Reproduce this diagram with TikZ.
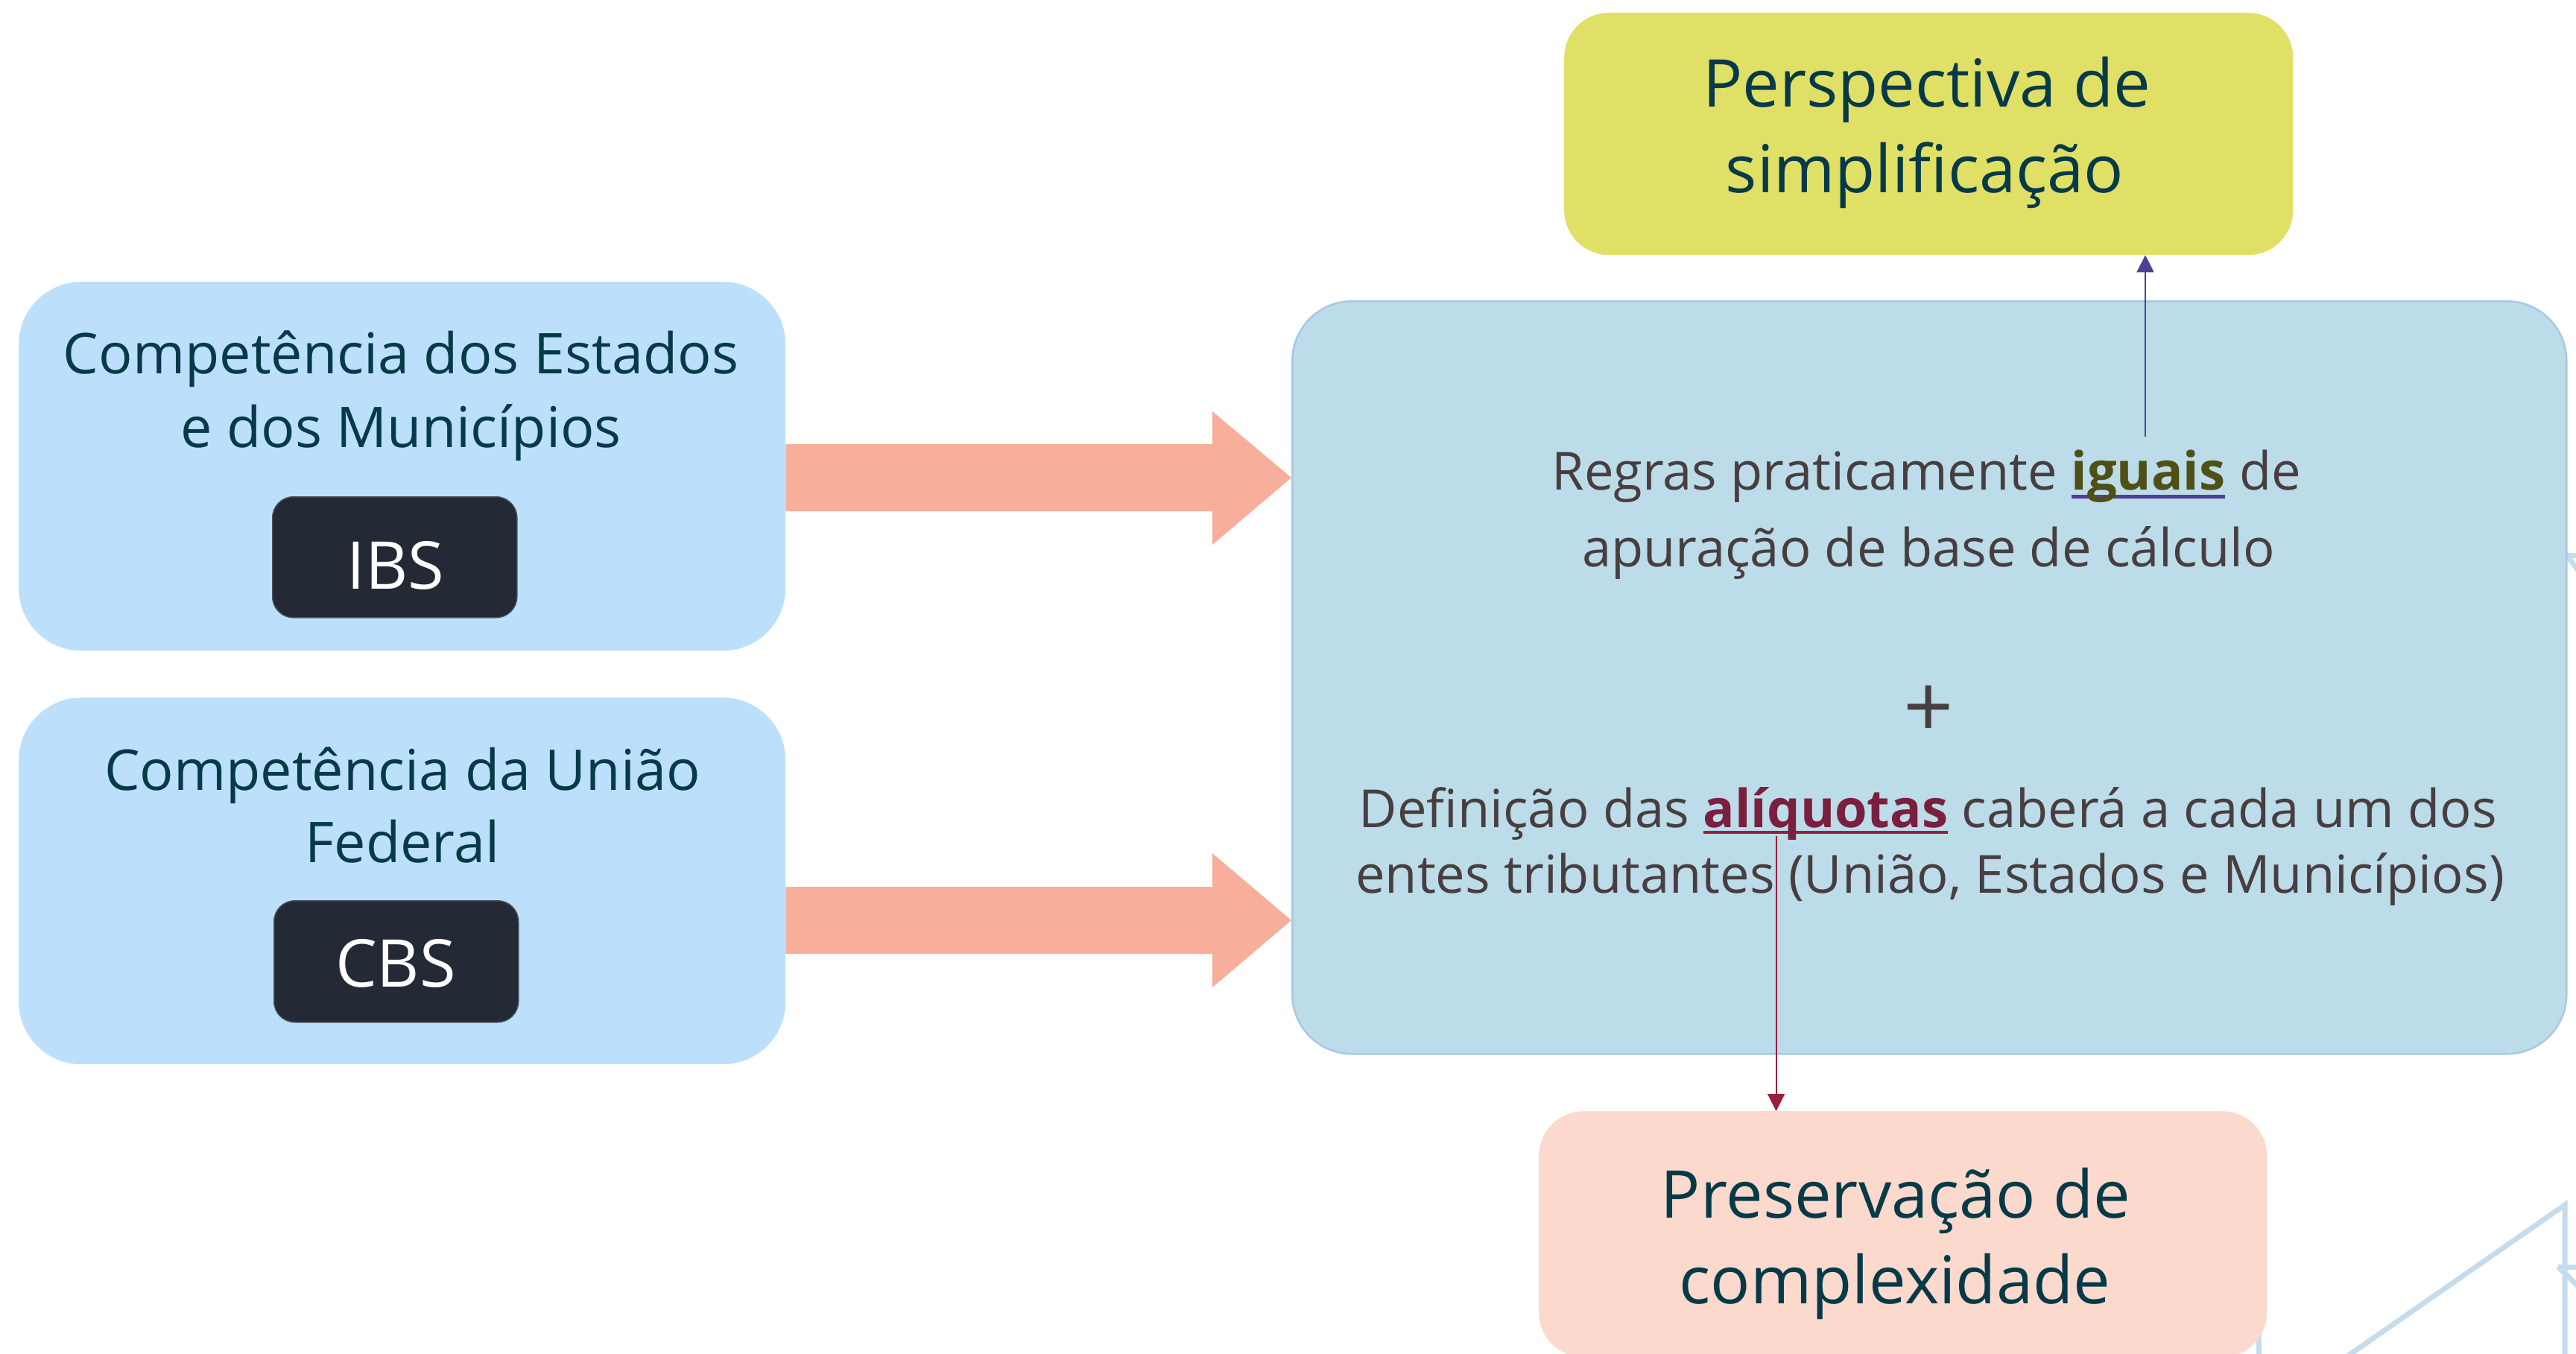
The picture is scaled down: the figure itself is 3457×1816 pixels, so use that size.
\documentclass[tikz,border=0pt]{standalone}
\usepackage{fontspec}
\setmainfont{Open Sans}
\usetikzlibrary{arrows.meta,calc}
\definecolor{lboxc}{RGB}{188,224,251}
\definecolor{ibsc}{RGB}{35,42,53}
\definecolor{ibsedge}{RGB}{70,78,92}
\definecolor{txtteal}{RGB}{6,58,72}
\definecolor{bigc}{RGB}{187,220,232}
\definecolor{bigedge}{RGB}{168,200,230}
\definecolor{bigtxt}{RGB}{72,62,64}
\definecolor{yelc}{RGB}{224,224,102}
\definecolor{pinkc}{RGB}{251,217,205}
\definecolor{salmon}{RGB}{247,175,155}
\definecolor{upc}{RGB}{80,62,150}
\definecolor{igc}{RGB}{78,80,21}
\definecolor{aqc}{RGB}{122,31,61}
\definecolor{dnc}{RGB}{155,31,60}
\definecolor{decoc}{RGB}{197,220,236}
\newlength\ulwd
\newcommand\ulword[5]{\settowidth\ulwd{\bfseries #5}\rlap{\color{#1}\rule[-#3]{\ulwd}{#4}}{\color{#2}\bfseries #5}}
\begin{document}
\begin{tikzpicture}[x=1pt,y=-1pt,
  lbox/.style={fill=lboxc,draw=none,rounded corners=84pt,anchor=north west,inner sep=0,minimum width=1029pt},
  tagbox/.style={fill=ibsc,draw=ibsedge,line width=1.5pt,rounded corners=28pt,anchor=north west,inner sep=0,minimum width=328pt,minimum height=162pt},
  bigbox/.style={fill=bigc,draw=bigedge,line width=2.5pt,rounded corners=80pt,anchor=north west,inner sep=0},
  resbox/.style={rounded corners=60pt,anchor=north west,inner sep=0,minimum width=978pt,minimum height=325pt},
  ltxt/.style={anchor=base,inner sep=0,text=txtteal,font=\fontsize{75.5}{96}\selectfont},
  tagtxt/.style={anchor=base,inner sep=0,text=white,font=\fontsize{88.5}{110}\selectfont},
  btxt/.style={anchor=base,inner sep=0,text=bigtxt,font=\fontsize{70.5}{90}\selectfont},
  rtxt/.style={anchor=base,inner sep=0,text=txtteal,font=\fontsize{88.5}{110}\selectfont},
  blk/.style={fill=salmon},
  deco/.style={draw=decoc,line width=7pt,miter limit=20},
  uparr/.style={draw=upc,line width=2pt,-{Triangle[length=23pt,width=23pt]}},
  dnarr/.style={draw=dnc,line width=2pt,-{Triangle[length=23pt,width=23pt]}}]
\useasboundingbox (0,0) rectangle (3457,1816);
\fill[white] (0,0) rectangle (3457,1816);
% decorative fragments
\draw[deco] (3444,745) -- (3460,745);
\draw[deco] (3444,745) -- (3462,768);
\draw[deco] (3150,1820) -- (3442,1617) -- (3442,1820);
\draw[deco] (3433,1700) -- (3460,1700);
\draw[deco] (3433,1700) -- (3460,1726);
\draw[deco] (3031,1700) -- (3031,1820);
% left boxes
\node[lbox,minimum height=495pt] (b1) at (25,378) {};
\node[lbox,minimum height=492pt] (b2) at (25,936) {};
\node[tagbox] (ibs) at (365,666) {};
\node[tagbox,minimum height=163pt] (cbs) at (367,1208) {};
\node[ltxt] (b1a) at (538,501) {Competência dos Estados};
\node[ltxt] (b1b) at (538,600) {e dos Municípios};
\node[ltxt] (b2a) at (540,1060) {Competência da União};
\node[ltxt] (b2b) at (540,1157) {Federal};
\node[tagtxt] (ibst) at (531,790) {IBS};
\node[tagtxt] (cbst) at (531,1324) {CBS};
% big box
\node[bigbox,minimum width=1710pt,minimum height=1010pt] (big) at (1733,403) {};
% result boxes
\node[resbox,fill=yelc] (yel) at (2099,17) {};
\node[resbox,fill=pinkc,minimum width=977pt,minimum height=330pt] (pink) at (2065,1491) {};
\node[rtxt] (y1) at (2586,143) {Perspectiva de};
\node[rtxt] (y2) at (2583,258) {simplificação};
\node[rtxt] (p1) at (2544,1634) {Preservação de};
\node[rtxt] (p2) at (2543,1749) {complexidade};
% block arrows
\fill[blk] (b1.east |- 0,596) -- (1627,596) -- (1627,552) -- (big.west |- 0,641) -- (1627,731) -- (1627,686) -- (b1.east |- 0,686) -- cycle;
\fill[blk] (b2.east |- 0,1190) -- (1627,1190) -- (1627,1145) -- (big.west |- 0,1235) -- (1627,1325) -- (1627,1280) -- (b2.east |- 0,1280) -- cycle;
% big box text
\node[btxt] (ig) at (2883,657) {\ulword{upc}{igc}{11.5pt}{5pt}{iguais}};
\node[btxt,anchor=base east] (l1a) at (ig.base west) {Regras praticamente\ \kern0pt};
\node[btxt,anchor=base west] (l1b) at (ig.base east) {\kern0pt\ de};
\node[btxt] (l2) at (2588,760) {apuração de base de cálculo};
\node[btxt,font=\fontsize{118}{120}\selectfont,anchor=center] (plus) at (2588,955) {+};
\node[btxt] (aq) at (2450,1110) {\ulword{dnc}{aqc}{9pt}{4pt}{alíquotas}};
\node[btxt,anchor=base east] (l3a) at (aq.base west) {Definição das\ \kern0pt};
\node[btxt,anchor=base west] (l3b) at (aq.base east) {\kern0pt\ caberá a cada um dos};
\node[btxt] (l4) at (2590,1198) {entes tributantes (União, Estados e Municípios)};
% thin arrows
\coordinate (igtop) at ($(ig.base)+(-4,-71)$);
\draw[uparr] (igtop) -- (igtop |- yel.south);
\coordinate (aqbot) at ($(aq.base west)+(98,12)$);
\draw[dnarr] (aqbot) -- (aqbot |- pink.north);
\end{tikzpicture}
\end{document}
